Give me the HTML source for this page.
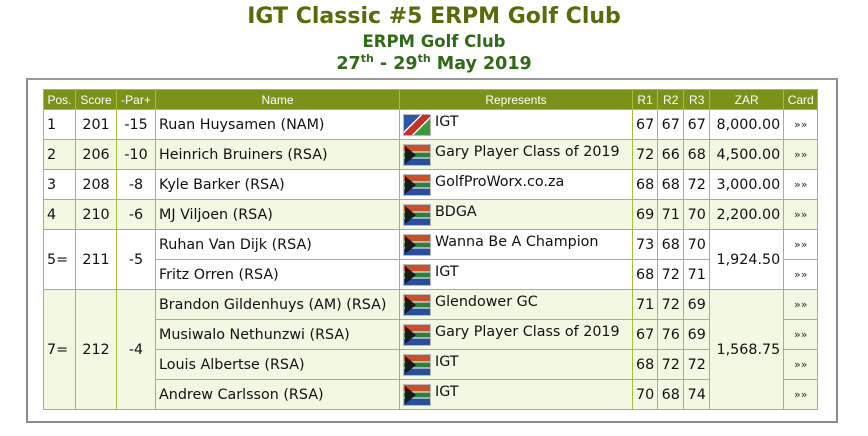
<!DOCTYPE html>
<html><head><meta charset="utf-8">
<style>
body{margin:0;width:868px;height:436px;background:#fff;font-family:"DejaVu Sans","Liberation Sans",sans-serif;overflow:hidden;position:relative}
.t1{position:absolute;top:4px;left:0;width:868px;text-align:center;font:bold 22px "DejaVu Sans",sans-serif;color:#5b6a08}
.t2{position:absolute;top:32px;left:0;width:868px;text-align:center;font:bold 16.5px "DejaVu Sans",sans-serif;color:#2f6a18}
.t3{position:absolute;top:54px;left:0;width:868px;text-align:center;font:bold 17.5px "DejaVu Sans",sans-serif;color:#2f6a18}
.t3 sup{font-size:11px;vertical-align:7px;line-height:0}
.frame{position:absolute;left:26px;top:78px;width:808px;height:341px;border:2px solid #8a8a8a;border-top-color:#999}
table{position:absolute;left:43px;top:89px;border-collapse:collapse;table-layout:fixed;font-size:14.3px;color:#111}
th{background:#7a921a;color:#fff;font:12px "Liberation Sans",sans-serif;height:19px;padding:0;border:1px solid #a6bf3a;font-weight:normal;line-height:14px}
td{border:1px solid #a6bf3a;height:29px;padding:0 3px;white-space:nowrap;overflow:hidden;line-height:16px;box-sizing:border-box}
tr.d{height:30px}
tr.g td{background:#f3f8e2}
.c{text-align:center}.r{text-align:right}
.rep{position:relative;padding-left:35px;vertical-align:top;padding-top:4px}
.flag{position:absolute;left:3px;top:4px;width:26px;height:20px;border:1px solid #bbb;background:#eee}
.za{background:linear-gradient(180deg,#c8502a 0 33%,#fff 33% 38%,#2e7d3a 38% 62%,#fff 62% 67%,#2a4f9a 67%)}
.za:before{content:"";position:absolute;left:1px;top:1px;border-left:11px solid #1a1a1a;border-top:9px solid transparent;border-bottom:9px solid transparent}
.na{background:linear-gradient(135deg,#2d58a8 0 35%,#fff 35% 40%,#c8302a 40% 60%,#fff 60% 65%,#3a9a3a 65%)}
.card{font-size:11px;color:#333}
</style></head><body>
<div class="t1">IGT Classic #5 ERPM Golf Club</div>
<div class="t2">ERPM Golf Club</div>
<div class="t3">27<sup>th</sup> - 29<sup>th</sup> May 2019</div>
<div class="frame"></div>
<table>
<colgroup><col style="width:32px"><col style="width:41px"><col style="width:39px"><col style="width:244px"><col style="width:233px"><col style="width:25px"><col style="width:26px"><col style="width:26px"><col style="width:74px"><col style="width:34px"></colgroup>
<tr><th>Pos.</th><th>Score</th><th>-Par+</th><th>Name</th><th>Represents</th><th>R1</th><th>R2</th><th>R3</th><th>ZAR</th><th>Card</th></tr>
<tr class="d"><td>1</td><td class="c">201</td><td class="c">-15</td><td>Ruan Huysamen (NAM)</td><td class="rep"><span class="flag na"></span>IGT</td><td class="c">67</td><td class="c">67</td><td class="c">67</td><td class="r">8,000.00</td><td class="c card">»»</td></tr>
<tr class="d g"><td>2</td><td class="c">206</td><td class="c">-10</td><td>Heinrich Bruiners (RSA)</td><td class="rep"><span class="flag za"></span>Gary Player Class of 2019</td><td class="c">72</td><td class="c">66</td><td class="c">68</td><td class="r">4,500.00</td><td class="c card">»»</td></tr>
<tr class="d"><td>3</td><td class="c">208</td><td class="c">-8</td><td>Kyle Barker (RSA)</td><td class="rep"><span class="flag za"></span>GolfProWorx.co.za</td><td class="c">68</td><td class="c">68</td><td class="c">72</td><td class="r">3,000.00</td><td class="c card">»»</td></tr>
<tr class="d g"><td>4</td><td class="c">210</td><td class="c">-6</td><td>MJ Viljoen (RSA)</td><td class="rep"><span class="flag za"></span>BDGA</td><td class="c">69</td><td class="c">71</td><td class="c">70</td><td class="r">2,200.00</td><td class="c card">»»</td></tr>
<tr class="d"><td rowspan="2">5=</td><td class="c" rowspan="2">211</td><td class="c" rowspan="2">-5</td><td>Ruhan Van Dijk (RSA)</td><td class="rep"><span class="flag za"></span>Wanna Be A Champion</td><td class="c">73</td><td class="c">68</td><td class="c">70</td><td class="r" rowspan="2">1,924.50</td><td class="c card">»»</td></tr>
<tr class="d"><td>Fritz Orren (RSA)</td><td class="rep"><span class="flag za"></span>IGT</td><td class="c">68</td><td class="c">72</td><td class="c">71</td><td class="c card">»»</td></tr>
<tr class="d g"><td rowspan="4">7=</td><td class="c" rowspan="4">212</td><td class="c" rowspan="4">-4</td><td>Brandon Gildenhuys (AM) (RSA)</td><td class="rep"><span class="flag za"></span>Glendower GC</td><td class="c">71</td><td class="c">72</td><td class="c">69</td><td class="r" rowspan="4">1,568.75</td><td class="c card">»»</td></tr>
<tr class="d g"><td>Musiwalo Nethunzwi (RSA)</td><td class="rep"><span class="flag za"></span>Gary Player Class of 2019</td><td class="c">67</td><td class="c">76</td><td class="c">69</td><td class="c card">»»</td></tr>
<tr class="d g"><td>Louis Albertse (RSA)</td><td class="rep"><span class="flag za"></span>IGT</td><td class="c">68</td><td class="c">72</td><td class="c">72</td><td class="c card">»»</td></tr>
<tr class="d g"><td>Andrew Carlsson (RSA)</td><td class="rep"><span class="flag za"></span>IGT</td><td class="c">70</td><td class="c">68</td><td class="c">74</td><td class="c card">»»</td></tr>
</table>
</body></html>
